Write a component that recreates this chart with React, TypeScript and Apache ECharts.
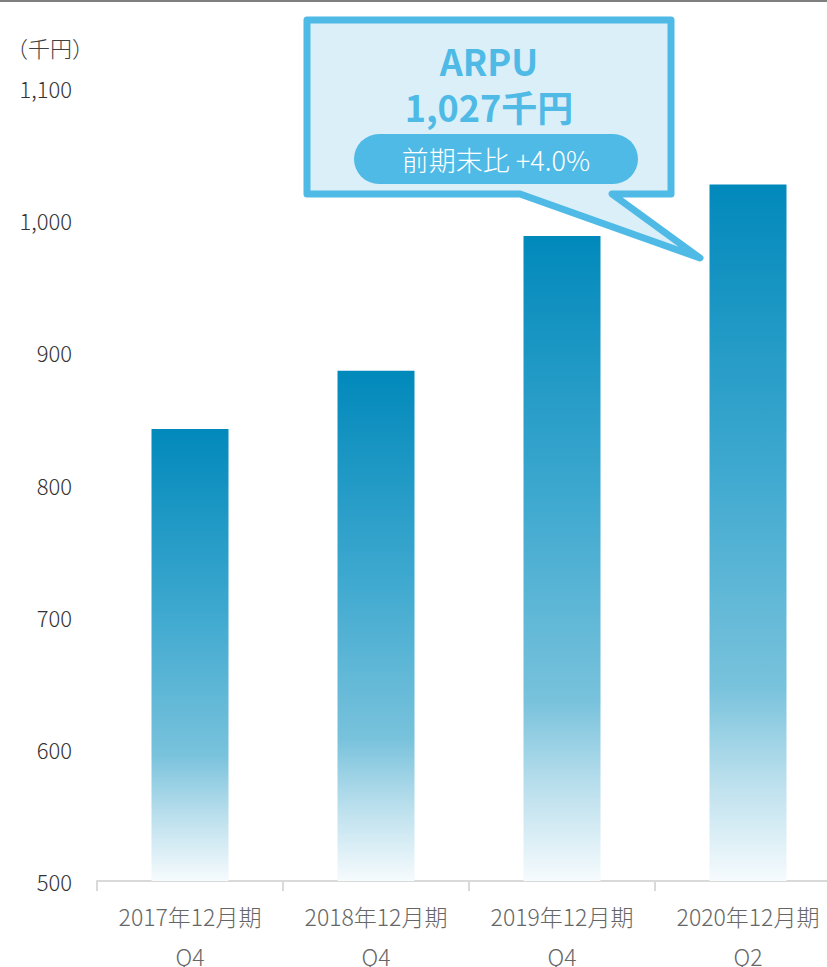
import React, { useEffect, useRef } from "react";
import * as echarts from "echarts";

const categories = ["2017年12月期\nQ4", "2018年12月期\nQ4", "2019年12月期\nQ4", "2020年12月期\nQ2"];
const arpuValues = [842, 886, 988, 1027];
const yMin = 500;
const yMax = 1100;
const yInterval = 100;
const unitLabel = "（千円）";
const calloutTitle = "ARPU";
const calloutValue = "1,027千円";
const calloutBadge = "前期末比 +4.0%";

const FONT = '"Noto Sans CJK JP", "Noto Sans", sans-serif';

export default function App() {
  const ref = useRef<HTMLDivElement>(null);
  useEffect(() => {
    if (!ref.current) return;
    const chart = echarts.init(ref.current, undefined, { renderer: "svg" });
    const blue = "#4fbae6";
    chart.setOption({
      animation: false,
      backgroundColor: "#ffffff",
      textStyle: { fontFamily: FONT },
      grid: { left: 97, top: 88, height: 793, width: 744, outerBoundsMode: "none", containLabel: false },
      xAxis: {
        type: "category",
        data: categories,
        axisLine: { show: true, lineStyle: { color: "#d9d9d9", width: 2 } },
        axisTick: { show: true, length: 10, lineStyle: { color: "#d9d9d9", width: 2 } },
        axisLabel: {
          color: "#666666",
          fontSize: 23,
          lineHeight: 40,
          margin: 15,
          fontFamily: FONT,
          fontWeight: 300,
        },
      },
      yAxis: {
        type: "value",
        min: yMin,
        max: yMax,
        interval: yInterval,
        axisLine: { show: false },
        axisTick: { show: false },
        splitLine: { show: false },
        axisLabel: {
          color: "#333333",
          fontSize: 22,
          margin: 25,
          fontFamily: FONT,
          fontWeight: 300,
          formatter: (v: number) => v.toLocaleString("en-US"),
        },
      },
      series: [
        {
          type: "bar",
          data: arpuValues,
          barWidth: 77,
          itemStyle: {
            color: new echarts.graphic.LinearGradient(0, 0, 0, 1, [
              { offset: 0, color: "#0189bb" },
              { offset: 0.4, color: "#3da8cf" },
              { offset: 0.72, color: "#78c2dc" },
              { offset: 0.85, color: "#b8deec" },
              { offset: 1, color: "#f6fbfd" },
            ]),
          },
        },
      ],
      graphic: [
        {
          type: "rect",
          shape: { x: 0, y: 0, width: 827, height: 2 },
          style: { fill: "#7f7f7f" },
        },
        {
          type: "text",
          left: 6,
          top: 36,
          style: { text: unitLabel, fontSize: 22, fill: "#404040", fontFamily: FONT, fontWeight: 300 },
        },
        {
          type: "polygon",
          shape: {
            points: [
              [307, 20],
              [671, 20],
              [671, 194],
              [612, 194],
              [700, 258],
              [520, 194],
              [307, 194],
            ],
          },
          style: { fill: "#daeff8", stroke: blue, lineWidth: 7, lineJoin: "round" },
        },
        {
          type: "text",
          x: 489,
          y: 83,
          style: {
            text: calloutTitle + "\n" + calloutValue,
            fontSize: 36,
            lineHeight: 46,
            fontWeight: "bold",
            fill: blue,
            fontFamily: FONT,
            align: "center",
            verticalAlign: "middle",
          },
        },
        {
          type: "rect",
          shape: { x: 354, y: 134, width: 284, height: 50, r: 25 },
          style: { fill: blue },
        },
        {
          type: "text",
          x: 496,
          y: 159,
          style: {
            text: calloutBadge,
            fontSize: 27,
            fill: "#ffffff",
            fontFamily: FONT,
            fontWeight: 300,
            align: "center",
            verticalAlign: "middle",
          },
        },
      ],
    });
    return () => chart.dispose();
  }, []);
  return (
    <div
      ref={ref}
      style={{ position: "absolute", left: 0, top: 0, width: 827, height: 967 }}
    />
  );
}
